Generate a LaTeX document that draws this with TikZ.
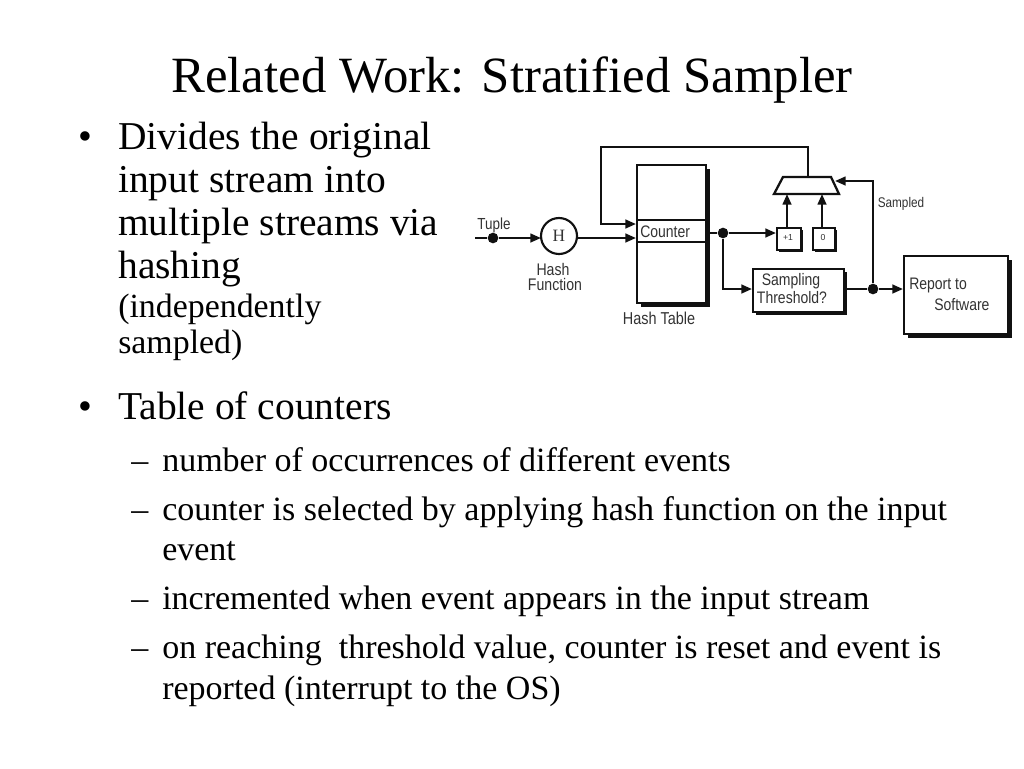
\documentclass[tikz,border=0pt]{standalone}
\usepackage{fontspec}
\setmainfont{Liberation Serif}
\newfontfamily\diagfont{Liberation Sans}
\usetikzlibrary{arrows.meta,calc}
\definecolor{inkc}{HTML}{111111}
\definecolor{labelc}{HTML}{333333}
\tikzset{
  x=0.75pt,y=-0.75pt,
  wire/.style={draw=inkc,line width=1.7pt},
  arr/.style={wire,-{Triangle[length=8pt,width=6.5pt]}},
  junction/.style={circle,fill=inkc,inner sep=0pt,minimum size=8pt},
  title/.style={anchor=base,inner sep=0pt,font=\fontsize{38.1}{38.1}\selectfont},
  bodytext/.style={anchor=base west,inner sep=0pt,font=\fontsize{29.6}{29.6}\selectfont},
  smalltext/.style={anchor=base west,inner sep=0pt,font=\fontsize{25.4}{25.4}\selectfont},
  subtext/.style={anchor=base west,inner sep=0pt,font=\fontsize{25.5}{25.5}\selectfont},
  lbl/.style={anchor=base,inner sep=0pt,text=labelc,font=\diagfont\fontsize{12.6}{12.6}\selectfont},
  tinylbl/.style={anchor=center,inner sep=0pt,text=labelc,font=\diagfont\fontsize{6.5}{6.5}\selectfont},
  boxs/.style={draw=inkc,line width=1.3pt,fill=white,inner sep=0pt},
  shadowbox/.style={fill=inkc,inner sep=0pt},
}
\newcommand{\nar}[1]{\scalebox{0.84}[1]{#1}}
\newcommand{\sizedbox}[6]{% name, x1,y1,x2,y2, shadow
  \path let \n1={(#4-#2)*0.75pt}, \n2={(#5-#3)*0.75pt} in
    node[shadowbox,anchor=north west,minimum width=\n1,minimum height=\n2] (#1s) at ({#2+#6},{#3+#6}) {}
    node[boxs,anchor=north west,minimum width=\n1,minimum height=\n2] (#1) at (#2,#3) {};}
\begin{document}
\begin{tikzpicture}
\useasboundingbox[fill=white] (0,0) rectangle (1024,768);
% Title
\node[title] (ttl) at (512,92) {Related Work: Stratified Sampler};
% Left column
\node[bodytext] (b1) at (78,149.5) {•};
\node[bodytext] (l1) at (118,149.5) {Divides the original};
\node[bodytext] (l2) at (118,192.5) {input stream into};
\node[bodytext] (l3) at (118,235.5) {multiple streams via};
\node[bodytext] (l4) at (118,278.5) {hashing};
\node[smalltext] (l5) at (118,317.5) {(independently};
\node[smalltext] (l6) at (118,353.5) {sampled)};
% Lower text
\node[bodytext] (b2) at (78,419.5) {•};
\node[bodytext] (t1) at (118,419.5) {Table of counters};
\node[subtext] (d1) at (131,471) {–};
\node[subtext] (s1) at (162,471) {number of occurrences of different events};
\node[subtext] (d2) at (131,520) {–};
\node[subtext] (s2) at (162,520) {counter is selected by applying hash function on the input};
\node[subtext] (s2b) at (162,560) {event};
\node[subtext] (d3) at (131,609) {–};
\node[subtext] (s3) at (162,609) {incremented when event appears in the input stream};
\node[subtext] (d4) at (131,658) {–};
\node[subtext] (s4) at (162,658) {on reaching\ \ threshold value, counter is reset and event is};
\node[subtext] (s4b) at (162,699) {reported (interrupt to the OS)};
% Boxes
\sizedbox{table}{636}{164}{705}{302}{5}
\draw[draw=inkc,line width=1pt] (636,220) -- (705,220) (636,242) -- (705,242);
\node[lbl,anchor=base west] (counter) at (640,237) {\nar{\fontsize{12.5}{12.5}\selectfont Counter}};
\node[circle,boxs,minimum size=27pt,line width=1.6pt] (hash) at (559,236) {};
\node[anchor=center,inner sep=0pt,text=labelc,font=\fontsize{13}{13}\selectfont] (hlabel) at (559,236) {H};
\sizedbox{plus}{776}{227}{800}{249}{3}
\node[tinylbl] (plustxt) at (788,238) {+1};
\sizedbox{zero}{812}{227}{834}{249}{3}
\node[tinylbl] (zerotxt) at (823,238) {0};
\sizedbox{thresh}{752}{268}{843}{311}{4}
\node[lbl] (th1) at (791,285) {\nar{\fontsize{12.5}{12.5}\selectfont Sampling}};
\node[lbl] (th2) at (792,303) {\nar{\fontsize{12.5}{12.5}\selectfont Threshold?}};
\sizedbox{report}{903}{255}{1007}{333}{5}
\node[lbl,anchor=base west] (rp1) at (909,289) {\nar{\fontsize{12.5}{12.5}\selectfont Report to}};
\node[lbl,anchor=base west] (rp2) at (934,310) {\nar{\fontsize{12.5}{12.5}\selectfont Software}};
% Mux
\coordinate (mt) at (808,177);
\draw[draw=inkc,line width=1.7pt,fill=white] (783,177) -- (831,177) -- (839,194) -- (774,194) -- cycle;
% Labels
\node[lbl] (tuple) at (494,229) {\nar{\fontsize{12}{12}\selectfont Tuple}};
\node[lbl] (hf1) at (553,275) {\nar{Hash}};
\node[lbl] (hf2) at (555,290) {\nar{Function}};
\node[lbl] (ht) at (659,324) {\nar{\fontsize{12.9}{12.9}\selectfont Hash Table}};
\node[lbl] (smp) at (901,207) {\nar{\fontsize{10.5}{10.5}\selectfont Sampled}};
% Junctions
\coordinate (tstart) at (475,238);
\node[junction] (j1) at (493,238) {};
\node[junction] (j2) at (723,233) {};
\node[junction] (j3) at (873,289) {};
% Connector anchor points
\coordinate (hin) at (541,238);
\coordinate (hout) at (578,238);
\coordinate (tin) at (636,238);
\coordinate (loopin) at (636,224);
\coordinate (ltop) at (601,147);
\coordinate (tout) at (705,233);
\coordinate (plusup) at (787,227);
\coordinate (plusmux) at (787,194);
\coordinate (zeroup) at (822,227);
\coordinate (zeromux) at (822,194);
\coordinate (muxr) at (835,181);
% Connectors
\draw[wire] (tstart) -- (j1);
\draw[arr] (j1) -- (hin);
\draw[arr] (hout) -- (tin);
\draw[arr] (mt) -- (ltop -| mt) -- (ltop) -- (ltop |- loopin) -- (loopin);
\draw[wire] (tout) -- (j2);
\draw[arr] (j2) -- (j2 -| plus.west);
\draw[arr] (j2) -- (j2 |- j3) -- (j3 -| thresh.west);
\draw[wire] (j3 -| thresh.east) -- (j3);
\draw[arr] (j3) -- (j3 -| report.west);
\draw[arr] (j3) -- (j3 |- muxr) -- (muxr);
\draw[arr] (plusup) -- (plusmux);
\draw[arr] (zeroup) -- (zeromux);
\end{tikzpicture}
\end{document}
